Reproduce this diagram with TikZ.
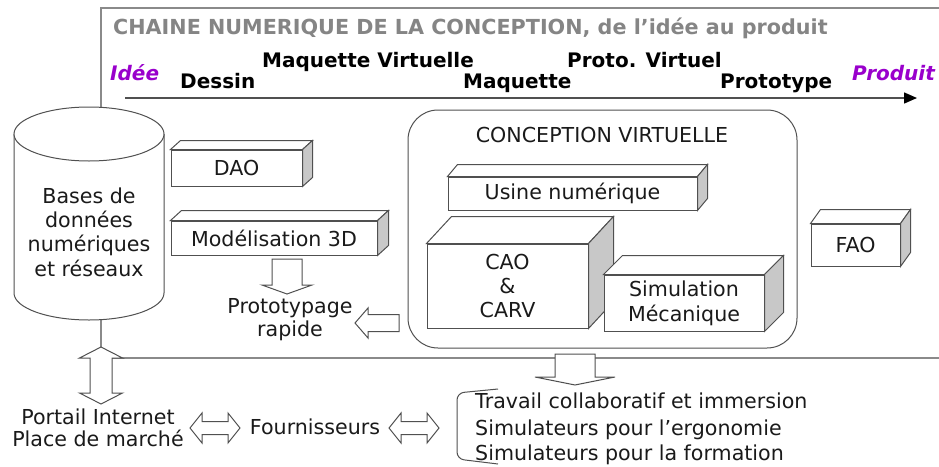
\documentclass[tikz,border=0pt]{standalone}
\usepackage{fontspec}
\setmainfont{DejaVu Sans}
\usetikzlibrary{arrows.meta}
\definecolor{endcol}{HTML}{9900CC}
\definecolor{titlegray}{HTML}{858585}
\definecolor{sidegray}{HTML}{C8C8C8}
\definecolor{linegray}{HTML}{505050}
\definecolor{framegray}{HTML}{8A8A8A}
\definecolor{txtcol}{HTML}{1A1A1A}
% top and side faces of a box node
\newcommand{\slab}[3]{%
\draw[blk] (#1.north west) -- ([shift={(#2,-#3)}]#1.north west) -- ([shift={(#2,-#3)}]#1.north east) -- (#1.north east) -- cycle;
\draw[blk, fill=sidegray] (#1.north east) -- ([shift={(#2,-#3)}]#1.north east) -- ([shift={(#2,-#3)}]#1.south east) -- (#1.south east) -- cycle;}

\tikzset{
txt/.style={font=\fontsize{20.6}{24}\selectfont, text=txtcol, align=center, inner sep=0pt},
stage/.style={font=\fontsize{20}{24}\selectfont\bfseries, anchor=base west, inner sep=0pt},
ends/.style={stage, font=\fontsize{20}{24}\selectfont\bfseries\itshape, text=endcol},
slabbox/.style={txt, draw=linegray, fill=white, line width=1pt},
blk/.style={draw=linegray, fill=white, line width=1pt, line join=miter},
pics/blkone/.style n args={4}{code={
\draw[blk] (0,-#2) -- (#1-#4,-#2) -- (#1-#4,-#3) -- (#1,0) -- (#1-#4,#3) -- (#1-#4,#2) -- (0,#2) -- cycle;}},
pics/blktwo/.style n args={4}{code={
\draw[blk] (0,0) -- (#4,-#3) -- (#4,-#2) -- (#1-#4,-#2) -- (#1-#4,-#3) -- (#1,0) -- (#1-#4,#3) -- (#1-#4,#2) -- (#4,#2) -- (#4,#3) -- cycle;}}
}

\begin{document}
\begin{tikzpicture}[x=1pt, y=-1pt]
\useasboundingbox (0,0) rectangle (939,466);

% frame
\draw[framegray, line width=1.5pt] (101,107) -- (101,8) -- (945,8);
\draw[framegray, line width=1.5pt] (101,320) -- (101,347);
\draw[framegray, line width=1.5pt] (101,358) -- (945,358);

\node (titre) at (113,34) [stage, text=titlegray, font=\fontsize{20.7}{24}\selectfont\bfseries] {CHAINE NUMERIQUE DE LA CONCEPTION, de l’idée au produit};

% time line
\coordinate (tl0) at (125,98);
\coordinate (tl1) at (917,98);
\draw [linegray, line width=1.5pt, -{Triangle[length=13pt, width=11pt, color=black]}] (tl0) -- (tl1);
\node (idee) at (110,80) [ends] {Idée};
\node (dessin) at (180,88) [stage] {Dessin};
\node (mqv) at (262,67) [stage] {Maquette Virtuelle};
\node (mq) at (463,88) [stage] {Maquette};
\node (ptv) at (567,67) [stage] {Proto. Virtuel};
\node (pt) at (720,88) [stage] {Prototype};
\node (produit) at (852,80) [ends] {Produit};

% database
\draw[linegray, line width=1pt, fill=white] (14,134) -- (14,293) arc[start angle=180, end angle=360, x radius=75pt, y radius=27pt] -- (164,134);
\draw[linegray, line width=1pt, fill=white] (89,134) ellipse[x radius=75pt, y radius=27pt];
\node (bdd) at (89,232) [txt, font=\fontsize{20.6}{24.3}\selectfont] {Bases de\\données\\numériques\\et réseaux};

% left column
\node (dao) at (236.5,168) [slabbox, minimum width=131, minimum height=36] {DAO};
\slab{dao}{10}{9}
\node (mod) at (274,238) [slabbox, minimum width=206, minimum height=34] {Modélisation 3D};
\slab{mod}{11}{10}
\node (proto) at (290,320) [txt, font=\fontsize{20.6}{23}\selectfont] {Prototypage\\rapide};

% conception virtuelle
\node (cv) at (602.5,229) [draw=linegray, line width=1pt, rounded corners=30pt, minimum width=389, minimum height=238] {};
\node (cvt) at (602,135) [txt] {CONCEPTION VIRTUELLE};
\node (usine) at (572.5,193.5) [slabbox, minimum width=249, minimum height=33] {Usine numérique};
\slab{usine}{10}{12}
\node (cao) at (507.5,286) [slabbox, minimum width=161, minimum height=84] {CAO\\\&\\CARV};
\slab{cao}{25}{27}
\node (simu) at (684,303) [slabbox, minimum width=160, minimum height=56, font=\fontsize{20.6}{25}\selectfont] {Simulation\\Mécanique};
\slab{simu}{19}{19}
\node (fao) at (855.5,245) [slabbox, minimum width=89, minimum height=42] {FAO};
\slab{fao}{10}{14}

% bottom
\node (portail) at (98,428) [txt, font=\fontsize{20.6}{22}\selectfont] {Portail Internet\\Place de marché};
\node (fourn) at (315,427) [txt] {Fournisseurs};
\node (l1) at (475,408) [txt, anchor=base west] {Travail collaboratif et immersion};
\node (l2) at (475,435) [txt, anchor=base west] {Simulateurs pour l’ergonomie};
\node (l3) at (475,460) [txt, anchor=base west] {Simulateurs pour la formation};
\draw[linegray, line width=1pt, rounded corners=7pt] (498,389) -- (457,393) -- (457,459) -- (498,464);

% block arrows
\path (287,259) pic[rotate=-90] {blkone={35}{15}{25}{9}};
\path (399,323) pic[rotate=180] {blkone={44}{8.5}{15}{13}};
\path (575,354) pic[rotate=-90] {blkone={31}{20}{40}{8}};
\path (101,347) pic[rotate=-90] {blktwo={57}{11}{21.5}{11}};
\path (190,428) pic {blktwo={50}{6.5}{15}{12}};
\path (389,428) pic {blktwo={50}{6.5}{15}{12}};
\end{tikzpicture}
\end{document}
